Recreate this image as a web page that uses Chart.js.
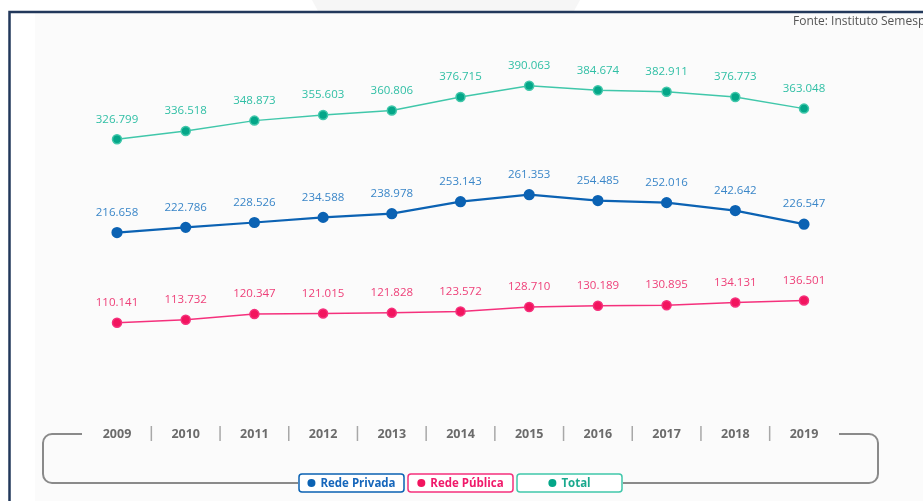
<!DOCTYPE html>
<html>
<head>
<meta charset="utf-8">
<script src="https://cdn.jsdelivr.net/npm/chart.js@4.4.7/dist/chart.umd.min.js"></script>
<style>
  html, body { margin: 0; padding: 0; background: #ffffff; }
  #wrap { position: relative; width: 923px; height: 501px; overflow: hidden; }
</style>
</head>
<body>
<div id="wrap"><canvas id="chart" width="923" height="501"></canvas></div>
<script>
var years = ["2009", "2010", "2011", "2012", "2013", "2014", "2015", "2016", "2017", "2018", "2019"];
var redePrivada = [216658, 222786, 228526, 234588, 238978, 253143, 261353, 254485, 252016, 242642, 226547];
var redePublica = [110141, 113732, 120347, 121015, 121828, 123572, 128710, 130189, 130895, 134131, 136501];
var total = [326799, 336518, 348873, 355603, 360806, 376715, 390063, 384674, 382911, 376773, 363048];
var seriesNames = ["Rede Privada", "Rede Pública", "Total"];
var sourceText = "Fonte: Instituto Semesp";

function fmt(v) {
    return String(v).replace(/\B(?=(\d{3})+(?!\d))/g, ".");
}

function roundRect(ctx, x, y, w, h, r) {
    ctx.beginPath();
    ctx.moveTo(x + r, y);
    ctx.lineTo(x + w - r, y);
    ctx.arcTo(x + w, y, x + w, y + r, r);
    ctx.lineTo(x + w, y + h - r);
    ctx.arcTo(x + w, y + h, x + w - r, y + h, r);
    ctx.lineTo(x + r, y + h);
    ctx.arcTo(x, y + h, x, y + h - r, r);
    ctx.lineTo(x, y + r);
    ctx.arcTo(x, y, x + r, y, r);
    ctx.closePath();
}

// background, frame and source line
var framePlugin = {
    id: "frame",
    beforeDraw: function (chart) {
        var ctx = chart.ctx;
        ctx.save();
        ctx.fillStyle = "#ffffff";
        ctx.fillRect(0, 0, 923, 501);
        ctx.fillStyle = "#f6f6f6";
        ctx.beginPath();
        ctx.moveTo(312, 0); ctx.lineTo(580, 0); ctx.lineTo(574, 11); ctx.lineTo(318, 11);
        ctx.closePath(); ctx.fill();
        ctx.fillStyle = "#fbfbfb";
        ctx.fillRect(35, 13, 888, 488);
        ctx.strokeStyle = "#22385b";
        ctx.lineWidth = 2.5;
        ctx.beginPath();
        ctx.moveTo(9.5, 501); ctx.lineTo(9.5, 12); ctx.lineTo(923, 12);
        ctx.stroke();
        ctx.fillStyle = "#555555";
        ctx.font = "12px 'Open Sans', sans-serif";
        ctx.textBaseline = "alphabetic";
        ctx.textAlign = "left";
        ctx.fillText(sourceText, 793, 25);
        ctx.restore();
    }
};

// value labels above the points
var valuePlugin = {
    id: "values",
    afterDatasetsDraw: function (chart) {
        var ctx = chart.ctx;
        ctx.save();
        ctx.font = "11.5px 'Open Sans', sans-serif";
        ctx.textAlign = "center";
        ctx.textBaseline = "middle";
        chart.data.datasets.forEach(function (ds, i) {
            var meta = chart.getDatasetMeta(i);
            ctx.fillStyle = ds.labelColor;
            meta.data.forEach(function (pt, j) {
                ctx.fillText(fmt(ds.data[j]), pt.x, pt.y - 20);
            });
        });
        ctx.restore();
    }
};

// year axis, bracket and boxed legend
var axisPlugin = {
    id: "yearAxis",
    afterDraw: function (chart) {
        var ctx = chart.ctx;
        var xs = chart.scales.x;
        var yLab = 434;
        ctx.save();
        ctx.font = "bold 12.5px 'Open Sans', sans-serif";
        ctx.fillStyle = "#6b6b6b";
        ctx.textAlign = "center";
        ctx.textBaseline = "middle";
        years.forEach(function (y, i) {
            ctx.fillText(y, xs.getPixelForValue(i), yLab);
        });
        ctx.strokeStyle = "#a8a8a8";
        ctx.lineWidth = 1.5;
        for (var i = 0; i < years.length - 1; i++) {
            var mx = (xs.getPixelForValue(i) + xs.getPixelForValue(i + 1)) / 2;
            ctx.beginPath();
            ctx.moveTo(mx, 426); ctx.lineTo(mx, 441);
            ctx.stroke();
        }

        // bracket
        ctx.strokeStyle = "#8a8a8a";
        ctx.lineWidth = 2;
        var r = 9;
        ctx.beginPath();
        ctx.moveTo(82, yLab);
        ctx.lineTo(43 + r, yLab);
        ctx.arcTo(43, yLab, 43, yLab + r, r);
        ctx.lineTo(43, 483 - r);
        ctx.arcTo(43, 483, 43 + r, 483, r);
        ctx.lineTo(298, 483);
        ctx.stroke();
        ctx.beginPath();
        ctx.moveTo(839, yLab);
        ctx.lineTo(878 - r, yLab);
        ctx.arcTo(878, yLab, 878, yLab + r, r);
        ctx.lineTo(878, 483 - r);
        ctx.arcTo(878, 483, 878 - r, 483, r);
        ctx.lineTo(623, 483);
        ctx.stroke();

        // legend boxes
        var boxes = [[299, 105], [408, 105], [517, 105]];
        chart.data.datasets.forEach(function (ds, i) {
            var bx = boxes[i][0], bw = boxes[i][1];
            ctx.fillStyle = "#ffffff";
            roundRect(ctx, bx, 474, bw, 18, 3);
            ctx.fill();
            ctx.strokeStyle = ds.borderColor;
            ctx.lineWidth = 1.5;
            ctx.stroke();
            ctx.font = "bold 11.5px 'Open Sans', sans-serif";
            var tw = ctx.measureText(ds.label).width;
            var startX = bx + (bw - (tw + 13)) / 2;
            ctx.fillStyle = ds.pointBackgroundColor;
            ctx.beginPath();
            ctx.arc(startX + 4, 483, 4, 0, Math.PI * 2);
            ctx.fill();
            ctx.fillStyle = ds.legendColor;
            ctx.textAlign = "left";
            ctx.fillText(ds.label, startX + 13, 483.5);
        });
        ctx.restore();
    }
};

new Chart(document.getElementById("chart"), {
    type: "line",
    data: {
        labels: years,
        datasets: [
            { label: seriesNames[0], data: redePrivada, borderColor: "#0b62b3", pointBackgroundColor: "#0b62b3", borderWidth: 2.2, labelColor: "#3a86c8", legendColor: "#1666bb" },
            { label: seriesNames[1], data: redePublica, borderColor: "#f5307c", pointBackgroundColor: "#f2145e", borderWidth: 1.5, labelColor: "#ee3f78", legendColor: "#f0196a" },
            { label: seriesNames[2], data: total, borderColor: "#40c7aa", pointBackgroundColor: "#04a688", borderWidth: 1.5, labelColor: "#30bfa5", legendColor: "#1aa98e" }
        ]
    },
    options: {
        responsive: false,
        animation: false,
        layout: { padding: { left: 117, right: 119, top: 35, bottom: 85 } },
        elements: {
            point: { radius: 4.5, borderWidth: 0, hoverRadius: 4.5 },
            line: { tension: 0 }
        },
        plugins: {
            legend: { display: false },
            tooltip: { enabled: false }
        },
        scales: {
            x: { display: false, offset: false },
            y: { display: false, min: 0, max: 450000 }
        }
    },
    plugins: [framePlugin, valuePlugin, axisPlugin]
});
</script>
</body>
</html>
